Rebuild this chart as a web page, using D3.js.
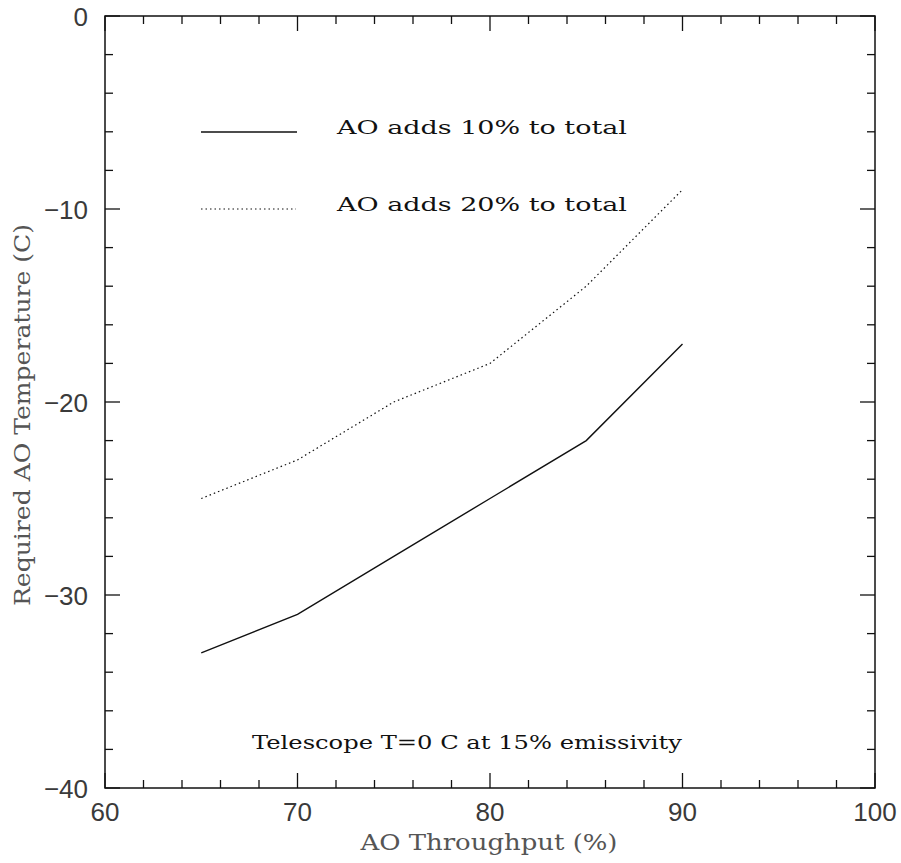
<!DOCTYPE html>
<html><head><meta charset="utf-8">
<script src="https://cdn.jsdelivr.net/npm/d3@7"></script>
<style>body{margin:0;background:#fff}</style>
</head><body>
<script>
const throughput = [65, 70, 75, 80, 85, 90];
const temp10 = [-33, -31, -28, -25, -22, -17];
const temp20 = [-25, -23, -20, -18, -14, -9];
const xTicks = [60, 70, 80, 90, 100];
const yTicks = [0, -10, -20, -30, -40];
const seriesNames = ["AO adds 10% to total", "AO adds 20% to total"];

const W = 901, H = 863;
const L = 105, R = 875, T = 16, B = 788;
const svg = d3.select("body").append("svg").attr("width", W).attr("height", H);
const x = d3.scaleLinear().domain([60, 100]).range([L, R]);
const y = d3.scaleLinear().domain([-40, 0]).range([B, T]);

const minorX = d3.range(60, 101, 2), minorY = d3.range(-40, 1, 2);
const g = svg.append("g").attr("stroke", "#111").attr("stroke-width", 1.3);
function tl(v){ return v % 10 === 0 ? 15 : 8; }
minorX.forEach(v => {
  g.append("line").attr("x1", x(v)).attr("x2", x(v)).attr("y1", B).attr("y2", B - tl(v));
  g.append("line").attr("x1", x(v)).attr("x2", x(v)).attr("y1", T).attr("y2", T + tl(v));
});
minorY.forEach(v => {
  g.append("line").attr("y1", y(v)).attr("y2", y(v)).attr("x1", L).attr("x2", L + tl(v));
  g.append("line").attr("y1", y(v)).attr("y2", y(v)).attr("x1", R).attr("x2", R - tl(v));
});
svg.append("rect").attr("x", L).attr("y", T).attr("width", R - L).attr("height", B - T)
  .attr("fill", "none").attr("stroke", "#111").attr("stroke-width", 1.5);

const tickFont = "'Liberation Sans', Arial, sans-serif";
xTicks.forEach(v => svg.append("text").attr("x", x(v)).attr("y", B + 33).attr("text-anchor", "middle")
  .attr("font-family", tickFont).attr("font-size", 26).attr("fill", "#3a3a3a").text(v));
yTicks.forEach(v => svg.append("text").attr("x", L - 17).attr("y", y(v) + 9.5).attr("text-anchor", "end")
  .attr("font-family", tickFont).attr("font-size", 26).attr("fill", "#3a3a3a").text(v === 0 ? "0" : "\u2212" + Math.abs(v)));

const serif = "'DejaVu Serif', 'Liberation Serif', serif";
svg.append("text").attr("x", 489).attr("y", 850).attr("text-anchor", "middle")
  .attr("font-family", serif).attr("font-size", 22).attr("fill", "#555")
  .attr("textLength", 257).attr("lengthAdjust", "spacingAndGlyphs").text("AO Throughput (%)");
svg.append("text").attr("transform", "translate(30,415) rotate(-90)").attr("text-anchor", "middle")
  .attr("font-family", serif).attr("font-size", 22).attr("fill", "#555")
  .attr("textLength", 382).attr("lengthAdjust", "spacingAndGlyphs").text("Required AO Temperature (C)");

const line = d3.line().x(d => x(d[0])).y(d => y(d[1]));
svg.append("path").datum(throughput.map((t, i) => [t, temp10[i]])).attr("d", line)
  .attr("fill", "none").attr("stroke", "#111").attr("stroke-width", 1.4);
svg.append("path").datum(throughput.map((t, i) => [t, temp20[i]])).attr("d", line)
  .attr("fill", "none").attr("stroke", "#111").attr("stroke-width", 1.2).attr("stroke-dasharray", "1.5,3");

// legend
svg.append("line").attr("x1", 201).attr("x2", 297).attr("y1", 132).attr("y2", 132).attr("stroke", "#111").attr("stroke-width", 1.4);
svg.append("line").attr("x1", 201).attr("x2", 296).attr("y1", 209).attr("y2", 209).attr("stroke", "#111").attr("stroke-width", 1.2).attr("stroke-dasharray", "1.5,3");
[[seriesNames[0], 134], [seriesNames[1], 211]].forEach(([t, yy]) =>
  svg.append("text").attr("x", 337).attr("y", yy).attr("font-family", serif).attr("font-size", 19)
    .attr("fill", "#111").attr("textLength", 290).attr("lengthAdjust", "spacingAndGlyphs").text(t));
svg.append("text").attr("x", 252).attr("y", 749).attr("font-family", serif).attr("font-size", 19)
  .attr("fill", "#111").attr("textLength", 430).attr("lengthAdjust", "spacingAndGlyphs").text("Telescope T=0 C at 15% emissivity");
</script>
</body></html>
